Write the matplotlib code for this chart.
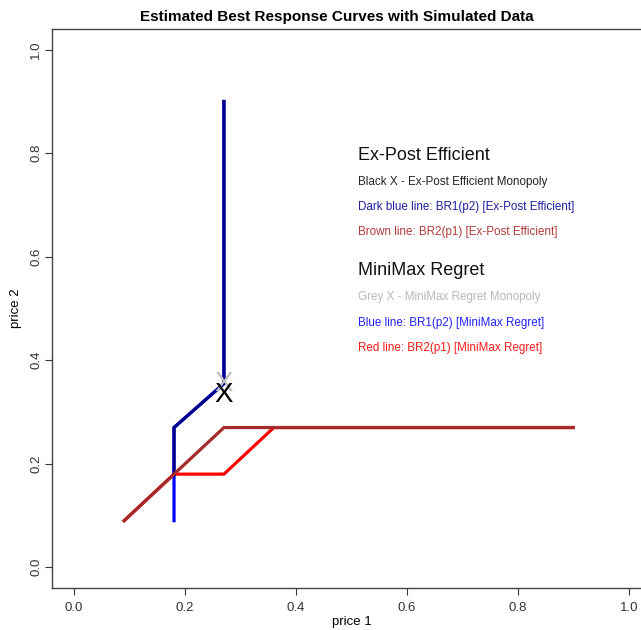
import matplotlib
matplotlib.use("Agg")
import matplotlib.pyplot as plt

plt.rcParams['font.family'] = ['Liberation Sans', 'DejaVu Sans']

# Data
red_x = [0.09, 0.18, 0.27, 0.36, 0.90]
red_y = [0.09, 0.18, 0.18, 0.27, 0.27]
blue_x = [0.18, 0.18, 0.18, 0.27, 0.27]
blue_y = [0.09, 0.18, 0.27, 0.355, 0.90]
darkblue_x = [0.18, 0.18, 0.27, 0.27]
darkblue_y = [0.18, 0.27, 0.355, 0.90]
brown_x = [0.09, 0.27, 0.90]
brown_y = [0.09, 0.27, 0.27]
grey_x_pt = (0.27, 0.354)
black_x_pt = (0.27, 0.333)

xticks = [0.0, 0.2, 0.4, 0.6, 0.8, 1.0]
yticks = [0.0, 0.2, 0.4, 0.6, 0.8, 1.0]

legend_head1 = "Ex-Post Efficient"
legend_items1 = [("Black X - Ex-Post Efficient Monopoly", "#222222"),
                 ("Dark blue line: BR1(p2) [Ex-Post Efficient]", "#1f1f9f"),
                 ("Brown line: BR2(p1) [Ex-Post Efficient]", "#b03a3a")]
legend_head2 = "MiniMax Regret"
legend_items2 = [("Grey X - MiniMax Regret Monopoly", "#b8b8b8"),
                 ("Blue line: BR1(p2) [MiniMax Regret]", "#2222ff"),
                 ("Red line: BR2(p1) [MiniMax Regret]", "#ff1a1a")]

fig = plt.figure(figsize=(6.41, 6.30), dpi=100)
# axes box in pixel coords: left 52, right 651, top 29, bottom 588
ax = fig.add_axes([52/641, (630-588)/630, 599/641, 559/630])
ax.set_xlim(-0.04, 1.04)
ax.set_ylim(-0.04, 1.04)

lw = 2.3
ax.plot(red_x, red_y, color="#ff0000", lw=lw, solid_joinstyle='miter')
ax.plot(blue_x, blue_y, color="#0000ff", lw=lw, solid_joinstyle='miter')
ax.plot(darkblue_x, darkblue_y, color="#00008b", lw=lw, solid_joinstyle='miter')
ax.plot(brown_x, brown_y, color="#a52a2a", lw=lw, solid_joinstyle='miter')

ax.text(grey_x_pt[0], grey_x_pt[1], "X", color="#bebebe", fontsize=20,
        ha='center', va='center')
ax.text(black_x_pt[0], black_x_pt[1], "X", color="black", fontsize=20,
        ha='center', va='center')

# legend texts (positions in axes pixels)
def px_to_data(px, py):
    return (px - 74) / 555.0, (567 - py) / 517.0

tx, ty = px_to_data(358, 156)
ax.text(tx, ty, legend_head1, fontsize=13, color="#111111", ha='left', va='center')
for (t, c), py in zip(legend_items1, [182, 207, 232]):
    x, y = px_to_data(358, py)
    ax.text(x, y, t, fontsize=8.4, color=c, ha='left', va='center')
tx, ty = px_to_data(358, 271)
ax.text(tx, ty, legend_head2, fontsize=13, color="#111111", ha='left', va='center')
for (t, c), py in zip(legend_items2, [297, 323, 348]):
    x, y = px_to_data(358, py)
    ax.text(x, y, t, fontsize=8.4, color=c, ha='left', va='center')

ax.set_xticks(xticks)
ax.set_yticks(yticks)
ax.set_xticklabels([f"{v:.1f}" for v in xticks], fontsize=9.5)
ax.set_yticklabels([f"{v:.1f}" for v in yticks], fontsize=9.5, rotation=90, va='center')
ax.tick_params(direction='out', length=5, width=0.8, colors='#333333')
ax.tick_params(axis='x', pad=5)
ax.tick_params(axis='y', pad=2)
for s in ax.spines.values():
    s.set_color('#444444')
    s.set_linewidth(1.0)

ax.set_xlabel("price 1", fontsize=9.5, labelpad=1.5)
ax.set_ylabel("price 2", fontsize=9.5, labelpad=6)
fig.text(337/641, 1 - 17/630,
         "Estimated Best Response Curves with Simulated Data",
         fontsize=11, fontweight='bold', ha='center', va='center')

fig.savefig("out.png", dpi=100)
